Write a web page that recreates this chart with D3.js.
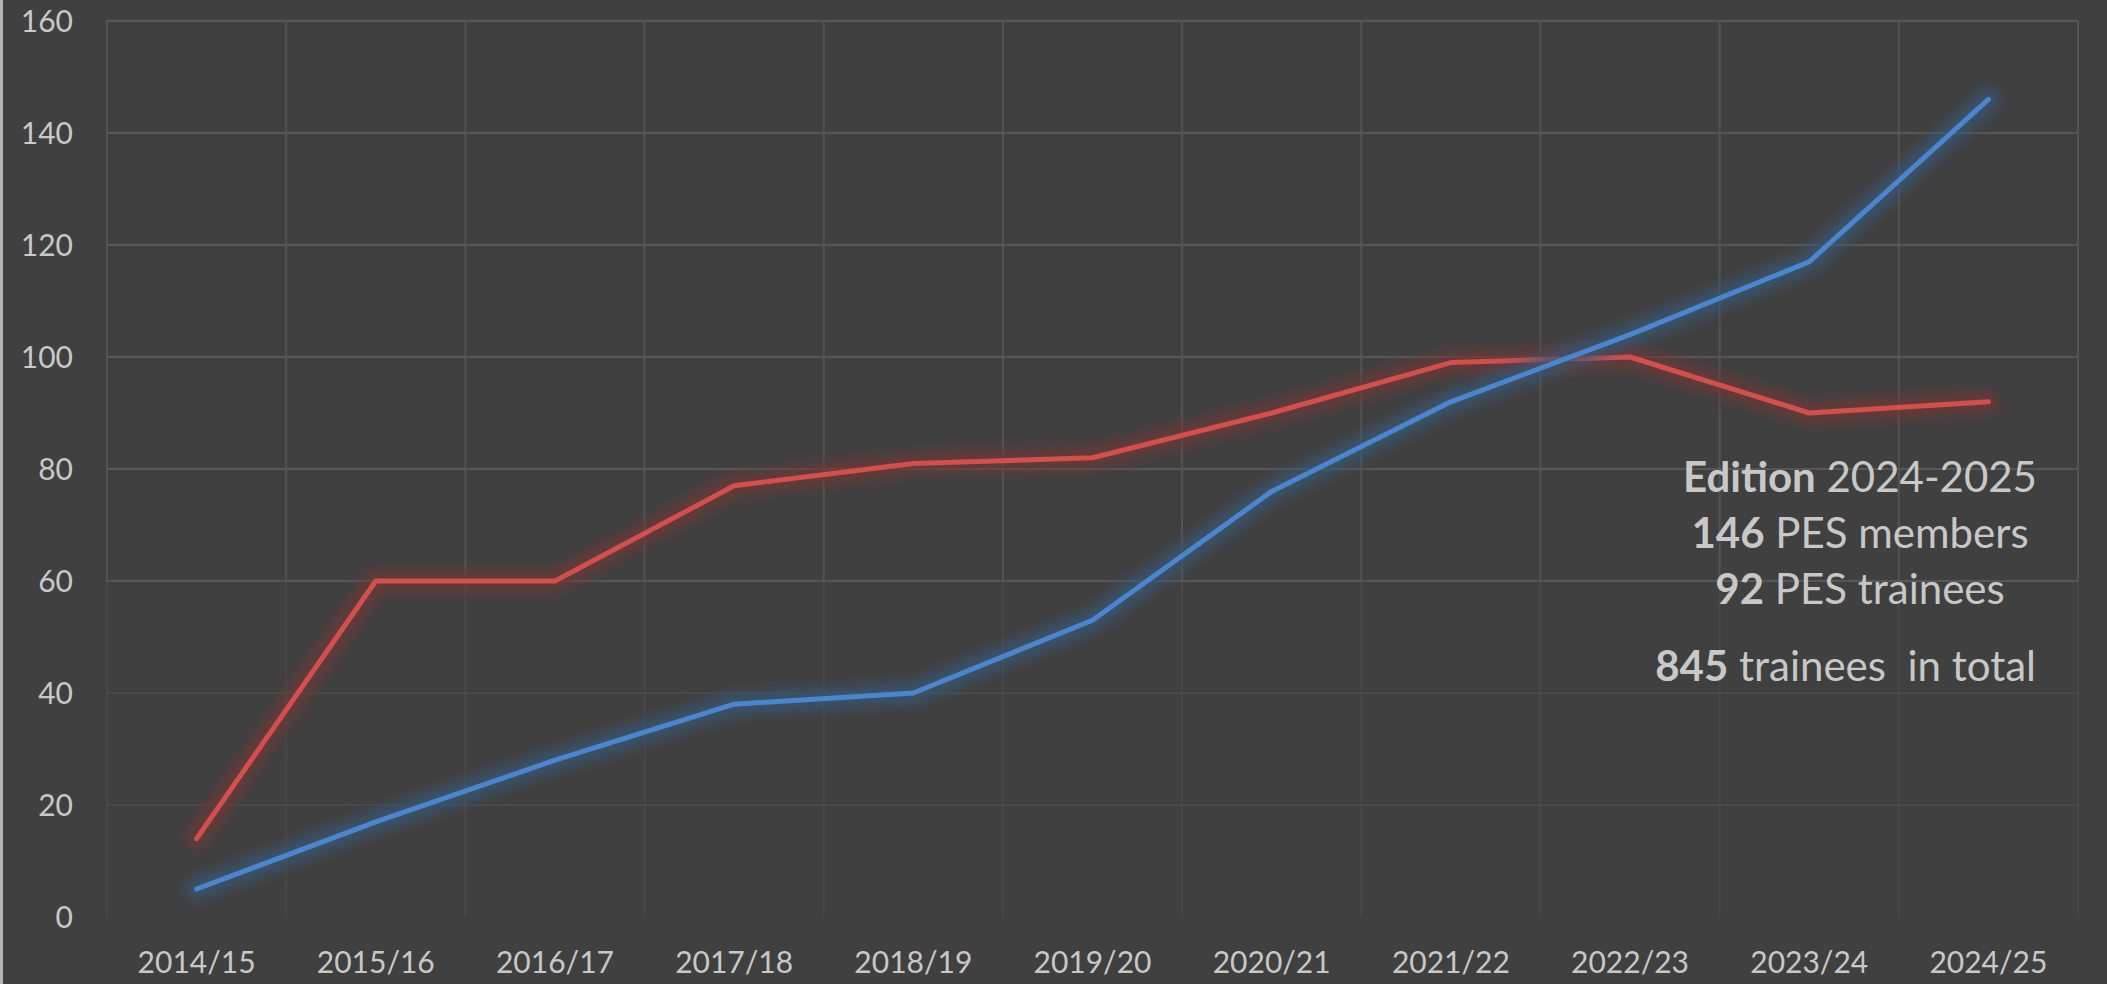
<!DOCTYPE html>
<meta charset="utf-8">
<style>
  body { margin: 0; background: #404040; }
  svg { display: block; }
  .axisText { font-family: Lato, "Open Sans", sans-serif; font-size: 30px; fill: #c8c8c8; }
  .grid line { stroke: #575757; stroke-width: 2px; }
  .note { font-family: Lato, "Open Sans", sans-serif; font-size: 42px; fill: #c8c8c8; }
</style>
<body>
<script src="https://d3js.org/d3.v7.min.js"></script>
<script>

// data
var seasons = ["2014/15", "2015/16", "2016/17", "2017/18", "2018/19", "2019/20",
               "2020/21", "2021/22", "2022/23", "2023/24", "2024/25"];
var pesMembers = [5, 17, 28, 38, 40, 53, 76, 92, 104, 117, 146];
var pesTrainees = [14, 60, 60, 77, 81, 82, 90, 99, 100, 90, 92];
var yTicks = [0, 20, 40, 60, 80, 100, 120, 140, 160];

var width = 2107, height = 984;
var plot = {left: 107, right: 2078, top: 21, bottom: 917};

var svg = d3.select("body").append("svg")
    .attr("width", width)
    .attr("height", height);

// background + thin light border on the left
svg.append("rect").attr("width", width).attr("height", height).attr("fill", "#404040");
svg.append("rect").attr("x", 0).attr("y", 0).attr("width", 3).attr("height", height).attr("fill", "#b4b4b4");

// glow filter
var defs = svg.append("defs");
defs.append("filter")
    .attr("id", "glow")
    .attr("x", "-10%").attr("y", "-10%").attr("width", "120%").attr("height", "120%")
  .append("feGaussianBlur")
    .attr("stdDeviation", 6);

var x = d3.scaleBand().domain(seasons).range([plot.left, plot.right]);
var y = d3.scaleLinear().domain([0, 160]).range([plot.bottom, plot.top]);

// gridlines (fainter toward the bottom, like the original)
var grid = svg.append("g").attr("class", "grid");
grid.selectAll(".hline")
    .data(yTicks.filter(function(d) { return d > 0; }))
  .enter().append("line")
    .attr("class", "hline")
    .attr("x1", plot.left).attr("x2", plot.right)
    .attr("y1", function(d) { return y(d); })
    .attr("y2", function(d) { return y(d); })
    .style("stroke-opacity", function(d) { return d < 60 ? 0.4 : 1; });

var vEdges = seasons.map(function(d) { return x(d); }).concat([plot.right]);
grid.selectAll(".vline")
    .data(vEdges)
  .enter().append("line")
    .attr("class", "vline")
    .attr("x1", function(d) { return d; }).attr("x2", function(d) { return d; })
    .attr("y1", plot.top).attr("y2", y(60))
    .style("stroke-opacity", 0.85);
grid.selectAll(".vlineLow")
    .data(vEdges)
  .enter().append("line")
    .attr("class", "vlineLow")
    .attr("x1", function(d) { return d; }).attr("x2", function(d) { return d; })
    .attr("y1", y(60)).attr("y2", plot.bottom)
    .style("stroke-opacity", 0.35);

// y axis labels
svg.append("g").selectAll("text")
    .data(yTicks)
  .enter().append("text")
    .attr("class", "axisText")
    .attr("x", 73)
    .attr("y", function(d) { return y(d); })
    .attr("dy", "0.36em")
    .attr("text-anchor", "end")
    .text(function(d) { return d; });

// x axis labels
svg.append("g").selectAll("text")
    .data(seasons)
  .enter().append("text")
    .attr("class", "axisText")
    .attr("x", function(d) { return x(d) + x.bandwidth() / 2; })
    .attr("y", 973)
    .attr("text-anchor", "middle")
    .text(function(d) { return d; });

var valueline = d3.line()
    .x(function(d, i) { return x(seasons[i]) + x.bandwidth() / 2; })
    .y(function(d) { return y(d); });

function drawSeries(values, color, glowColor) {
  svg.append("path")
      .datum(values)
      .attr("d", valueline)
      .attr("fill", "none")
      .attr("stroke", glowColor)
      .attr("stroke-width", 22)
      .attr("stroke-linecap", "round")
      .attr("stroke-linejoin", "round")
      .attr("stroke-opacity", 0.8)
      .attr("filter", "url(#glow)");
  svg.append("path")
      .datum(values)
      .attr("d", valueline)
      .attr("fill", "none")
      .attr("stroke", color)
      .attr("stroke-width", 5)
      .attr("stroke-linecap", "round")
      .attr("stroke-linejoin", "round");
}

drawSeries(pesTrainees, "#d24f4b", "#6e3838");
drawSeries(pesMembers, "#4a86d0", "#3a5674");

// annotation
var note = [
  {b: "Edition", r: " 2024-2025", y: 492},
  {b: "146", r: " PES members", y: 548},
  {b: "92", r: " PES trainees", y: 604}
];
var noteG = svg.append("g");
note.forEach(function(n) {
  var t = noteG.append("text")
      .attr("class", "note")
      .attr("x", 1860)
      .attr("y", n.y)
      .attr("text-anchor", "middle");
  t.append("tspan").style("font-weight", "bold").text(n.b);
  t.append("tspan").text(n.r);
});
var total = noteG.append("text")
    .attr("class", "note")
    .attr("x", 2036)
    .attr("y", 681)
    .attr("text-anchor", "end");
total.append("tspan").style("font-weight", "bold").text("845");
total.append("tspan").attr("xml:space", "preserve").style("white-space", "pre").text(" trainees  in total");

</script>
</body>
